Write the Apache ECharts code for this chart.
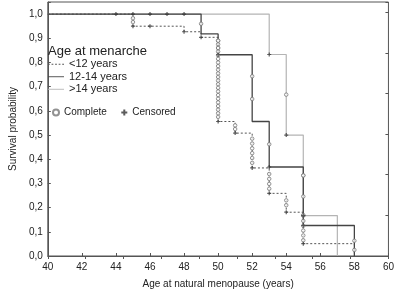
<!DOCTYPE html>
<html>
<head>
<meta charset="utf-8">
<script src="https://cdn.jsdelivr.net/npm/echarts@6/dist/echarts.min.js"></script>
<style>
  html, body { margin: 0; padding: 0; background: #fff; }
  #chart { width: 397px; height: 294px; }
</style>
</head>
<body>
<div id="chart"></div>
<script>
// Kaplan-Meier steps: [age, survival after the event]
const stepsLt12 = [[40, 1.0], [45, 0.95], [48, 0.927], [49, 0.904], [50, 0.556], [51, 0.508],
    [52, 0.364], [53, 0.259], [54, 0.181], [55, 0.051], [58, 0]];
const steps1214 = [[40, 1.0], [49, 0.918], [50, 0.832], [52, 0.556], [53, 0.368], [55, 0.126], [58, 0]];
const stepsGt14 = [[40, 1.0], [53, 0.833], [54, 0.5], [55, 0.167], [57, 0]];

// complete (event) markers along the drops
const completeLt12 = [[45, 0.983], [45, 0.967],
    [50, 0.89], [50, 0.875], [50, 0.86], [50, 0.845], [50, 0.83], [50, 0.815], [50, 0.80], [50, 0.785],
    [50, 0.77], [50, 0.755], [50, 0.74], [50, 0.725], [50, 0.71], [50, 0.695], [50, 0.68], [50, 0.665],
    [50, 0.65], [50, 0.635], [50, 0.62], [50, 0.605], [50, 0.59], [50, 0.575],
    [51, 0.54], [51, 0.525],
    [52, 0.485], [52, 0.465], [52, 0.445], [52, 0.425], [52, 0.405], [52, 0.385],
    [53, 0.339], [53, 0.319], [53, 0.298], [53, 0.278],
    [54, 0.23], [54, 0.21],
    [55, 0.167], [55, 0.145], [55, 0.125], [55, 0.105], [55, 0.085], [55, 0.065],
    [58, 0.025]];
const complete1214 = [[49, 0.96], [50, 0.89], [50, 0.86], [52, 0.743], [52, 0.649], [53, 0.462],
    [55, 0.333], [55, 0.246], [55, 0.169], [58, 0.063]];
const completeGt14 = [[54, 0.667], [55, 0.333]];

// censored markers
const censored = [[44, 1.0], [45, 1.0], [46, 1.0], [47, 1.0], [48, 1.0], [46, 0.95],
    [45, 0.95], [48, 0.927], [49, 0.904], [50, 0.556], [50, 0.832], [51, 0.508], [52, 0.364],
    [53, 0.368], [53, 0.259], [54, 0.181], [55, 0.126], [55, 0.051], [53, 0.833], [54, 0.5], [55, 0.167]];

const groupNames = ['<12 years', '12-14 years', '>14 years'];

const chart = echarts.init(document.getElementById('chart'));
const font = 'Liberation Sans, Arial, sans-serif';
const plus = 'path://M0,-1L0,1M-1,0L1,0';
const dotIcon = 'path://M0,0h2v1h-2zM4,0h2v1h-2zM8,0h2v1h-2zM12,0h2v1h-2zM16,0h2v1h-2z';
const lineIcon = 'path://M0,0h18v1h-18z';

chart.setOption({
    animation: false,
    backgroundColor: '#fff',
    textStyle: { fontFamily: font },
    title: {
        text: 'Age at menarche',
        left: 43, top: 40,
        textStyle: { fontSize: 13, fontWeight: 'normal', color: '#222', fontFamily: font }
    },
    legend: [{
        data: [
            { name: groupNames[0], icon: dotIcon },
            { name: groupNames[1], icon: lineIcon },
            { name: groupNames[2], icon: lineIcon }
        ],
        orient: 'vertical',
        left: 43, top: 53,
        itemWidth: 16, itemHeight: 1.2, itemGap: 0,
        textStyle: { fontSize: 11, color: '#222', fontFamily: font, lineHeight: 12.5 }
    }, {
        data: ['Complete', 'Censored'],
        orient: 'horizontal',
        left: 47, top: 102,
        itemWidth: 6, itemHeight: 6, itemGap: 12,
        textStyle: { fontSize: 10, color: '#222', fontFamily: font }
    }],
    grid: { left: 33, right: 5, top: 2, bottom: 32, show: true, borderColor: '#555', borderWidth: 1 },
    xAxis: [{
        type: 'value', min: 40, max: 60, interval: 2,
        name: 'Age at natural menopause (years)',
        nameLocation: 'middle', nameGap: 23,
        nameTextStyle: { fontSize: 10, color: '#222' },
        axisLine: { lineStyle: { color: '#555' } },
        axisTick: { inside: true, length: 3, lineStyle: { color: '#555' } },
        axisLabel: { fontSize: 10, color: '#222', margin: 6 },
        splitLine: { show: false }
    }, {
        type: 'value', position: 'top', min: 0, max: 9, interval: 1,
        axisLine: { show: false },
        axisTick: { inside: true, length: 3, lineStyle: { color: '#555' } },
        axisLabel: { show: false },
        splitLine: { show: false }
    }],
    yAxis: [{
        type: 'value', min: 0, max: 1.05, interval: 0.1,
        name: 'Survival probability',
        nameLocation: 'middle', nameGap: 24,
        nameTextStyle: { fontSize: 10, color: '#222' },
        axisLine: { show: true, lineStyle: { color: '#555' } },
        axisTick: { inside: true, length: 3, lineStyle: { color: '#555' } },
        axisLabel: {
            fontSize: 10, color: '#222', margin: 5,
            formatter: v => Math.abs(v * 10 - Math.round(v * 10)) > 1e-6 ? '' : v.toFixed(1).replace('.', ',')
        },
        splitLine: { show: false }
    }, {
        type: 'value', position: 'right', min: 0, max: 6.25, interval: 1,
        axisLine: { show: false },
        axisTick: { inside: true, length: 3, lineStyle: { color: '#555' } },
        axisLabel: { show: false },
        splitLine: { show: false }
    }],
    series: [
        {
            name: '<12 years', type: 'line', step: 'end', data: stepsLt12, symbol: 'none',
            lineStyle: { color: '#555', width: 1, type: [2, 2] }, itemStyle: { color: '#555' }, z: 3
        },
        {
            name: '12-14 years', type: 'line', step: 'end', data: steps1214, symbol: 'none',
            lineStyle: { color: '#444', width: 1.3 }, itemStyle: { color: '#444' }, z: 4
        },
        {
            name: '>14 years', type: 'line', step: 'end', data: stepsGt14, symbol: 'none',
            lineStyle: { color: '#b4b4b4', width: 1.2 }, itemStyle: { color: '#b4b4b4' }, z: 2
        },
        {
            name: 'Complete', type: 'scatter',
            data: completeLt12.concat(complete1214, completeGt14),
            symbol: 'circle', symbolSize: 3.5,
            itemStyle: { color: '#fff', borderColor: '#777', borderWidth: 1 }, z: 5
        },
        {
            name: 'Censored', type: 'scatter', data: censored,
            symbol: plus, symbolSize: 4,
            itemStyle: { color: 'none', borderColor: '#333', borderWidth: 1.2 }, z: 6
        }
    ]
});
</script>
</body>
</html>
